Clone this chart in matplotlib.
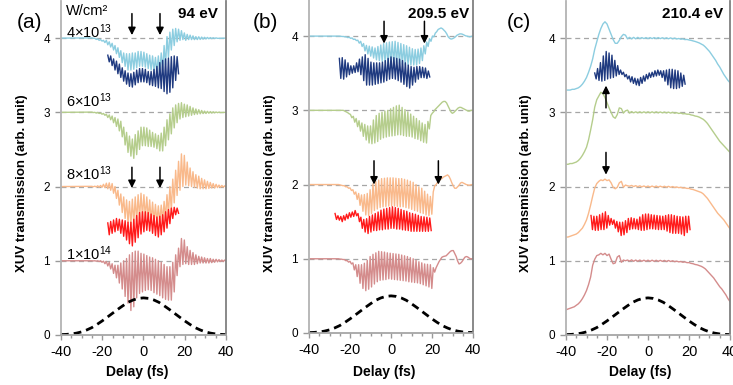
import numpy as np
import matplotlib
matplotlib.use("Agg")
import matplotlib.pyplot as plt

plt.rcParams['font.family'] = ['Liberation Sans', 'DejaVu Sans']
plt.rcParams['mathtext.fontset'] = 'custom'
plt.rcParams['mathtext.rm'] = 'Liberation Sans'
plt.rcParams['mathtext.default'] = 'regular'
plt.rcParams['axes.unicode_minus'] = False

STEP = 0.7  # fs between successive points of the fast (2w) oscillation

# colours of the intensity curves
C_BLUE, C_NAVY, C_GREEN = '#8ccde0', '#1f3a80', '#b5cd8c'
C_ORANGE, C_RED, C_PINK = '#f9b98b', '#ff1a1a', '#d48c8c'

# pump envelope (dashed), same in all panels
env_delay = np.arange(-40, 40.1, 2.5)
env_val = [0.005, 0.008, 0.014, 0.025, 0.042, 0.068, 0.10, 0.143, 0.19, 0.241, 0.293,
           0.345, 0.394, 0.44, 0.472, 0.493, 0.50, 0.493, 0.472, 0.44, 0.394, 0.345,
           0.293, 0.241, 0.19, 0.143, 0.10, 0.068, 0.042, 0.025, 0.014, 0.008, 0.005]

# ---------------- panel (a), 94 eV : peaks / troughs of the traces
a_blue_t0 = -25
a_blue_hi = [4.003, 3.998, 3.99, 3.98, 3.97, 3.97, 3.95, 3.93, 3.90, 3.87, 3.83, 3.80, 3.79, 3.79, 3.80,
             3.80, 3.82, 3.82, 3.81, 3.79, 3.77, 3.76, 3.74, 3.76, 3.80, 3.90, 4.02, 4.08, 4.12, 4.13,
             4.12, 4.10, 4.07, 4.05, 4.04, 4.03, 4.02, 4.018, 4.014, 4.011, 4.009, 4.007, 4.005, 4.003]
a_blue_lo = [3.997, 3.982, 3.97, 3.96, 3.94, 3.91, 3.88, 3.84, 3.79, 3.74, 3.67, 3.62, 3.57, 3.57, 3.58,
             3.60, 3.62, 3.62, 3.61, 3.59, 3.57, 3.56, 3.54, 3.54, 3.56, 3.64, 3.74, 3.84, 3.90, 3.95,
             3.97, 3.98, 3.97, 3.98, 3.98, 3.98, 3.98, 3.982, 3.986, 3.989, 3.991, 3.993, 3.995, 3.997]
a_navy_t0 = -17.3
a_navy_hi = [3.77, 3.76, 3.72, 3.69, 3.65, 3.60, 3.56, 3.53, 3.52, 3.54, 3.57, 3.59, 3.59, 3.58, 3.55,
             3.55, 3.58, 3.62, 3.67, 3.70, 3.72, 3.73, 3.75, 3.76, 3.75]
a_navy_lo = [3.68, 3.63, 3.57, 3.52, 3.47, 3.42, 3.38, 3.35, 3.34, 3.37, 3.40, 3.41, 3.41, 3.40, 3.37,
             3.36, 3.35, 3.33, 3.32, 3.28, 3.25, 3.27, 3.33, 3.43, 3.52]
a_green_t0 = -25
a_green_hi = [3.003, 3.0, 2.998, 2.99, 2.985, 2.975, 2.965, 2.95, 2.93, 2.91, 2.88, 2.80, 2.73, 2.68, 2.64,
              2.70, 2.75, 2.80, 2.80, 2.79, 2.76, 2.73, 2.71, 2.69, 2.72, 2.80, 2.90, 2.98, 3.06, 3.10,
              3.12, 3.13, 3.11, 3.10, 3.08, 3.06, 3.045, 3.035, 3.025, 3.017, 3.013, 3.01, 3.007, 3.005, 3.003]
a_green_lo = [2.997, 2.99, 2.985, 2.975, 2.96, 2.93, 2.90, 2.86, 2.81, 2.75, 2.67, 2.56, 2.46, 2.41, 2.38,
              2.43, 2.50, 2.55, 2.55, 2.54, 2.54, 2.53, 2.51, 2.48, 2.48, 2.55, 2.63, 2.71, 2.79, 2.86,
              2.91, 2.93, 2.94, 2.95, 2.96, 2.97, 2.975, 2.98, 2.983, 2.985, 2.988, 2.99, 2.993, 2.995, 2.997]
a_orange_t0 = -25
a_orange_hi = [2.003, 2.005, 2.01, 2.015, 2.03, 2.045, 2.05, 2.04, 2.00, 1.95, 1.90, 1.86, 1.82, 1.80, 1.83,
               1.86, 1.89, 1.91, 1.89, 1.86, 1.82, 1.79, 1.76, 1.74, 1.75, 1.80, 1.89, 2.00, 2.10, 2.22,
               2.34, 2.44, 2.42, 2.33, 2.25, 2.20, 2.16, 2.14, 2.11, 2.09, 2.07, 2.055, 2.04, 2.03, 2.02,
               2.015, 2.01]
a_orange_lo = [1.997, 1.995, 1.992, 1.99, 1.985, 1.97, 1.95, 1.91, 1.84, 1.75, 1.65, 1.57, 1.51, 1.48, 1.50,
               1.53, 1.57, 1.59, 1.58, 1.56, 1.53, 1.52, 1.52, 1.52, 1.54, 1.57, 1.62, 1.68, 1.78, 1.88,
               1.95, 2.00, 2.02, 2.01, 2.00, 1.99, 1.98, 1.97, 1.97, 1.97, 1.975, 1.98, 1.98, 1.985, 1.99,
               1.992, 1.995]
a_red_t0 = -17.3
a_red_hi = [1.51, 1.53, 1.55, 1.57, 1.56, 1.55, 1.54, 1.52, 1.52, 1.56, 1.61, 1.65, 1.66, 1.66, 1.65,
            1.63, 1.61, 1.59, 1.60, 1.62, 1.66, 1.69, 1.71, 1.72, 1.71]
a_red_lo = [1.35, 1.37, 1.39, 1.41, 1.37, 1.33, 1.28, 1.23, 1.20, 1.25, 1.31, 1.36, 1.39, 1.41, 1.40,
            1.37, 1.34, 1.32, 1.35, 1.39, 1.44, 1.50, 1.57, 1.62, 1.64]
a_pink_t0 = -25
a_pink_hi = [1.0, 1.0, 1.0, 1.0, 0.995, 0.99, 0.98, 0.96, 0.94, 0.94, 0.97, 1.00, 1.03, 1.08, 1.11,
             1.13, 1.13, 1.10, 1.09, 1.07, 1.05, 1.04, 1.02, 1.00, 0.98, 0.95, 0.92, 0.92, 0.98, 1.08,
             1.17, 1.30, 1.28, 1.19, 1.14, 1.11, 1.08, 1.06, 1.05, 1.04, 1.03, 1.03, 1.02, 1.02, 1.015,
             1.01, 1.01]
a_pink_lo = [0.998, 0.995, 0.99, 0.98, 0.96, 0.93, 0.89, 0.83, 0.77, 0.70, 0.62, 0.52, 0.43, 0.33, 0.38,
             0.50, 0.56, 0.58, 0.60, 0.61, 0.60, 0.57, 0.55, 0.53, 0.50, 0.48, 0.47, 0.47, 0.58, 0.80,
             0.92, 0.95, 0.96, 0.95, 0.95, 0.95, 0.96, 0.97, 0.97, 0.97, 0.97, 0.975, 0.98, 0.985, 0.99,
             0.99, 0.995]

# ---------------- panel (b), 209.5 eV
b_blue_t0 = -26
b_blue_hi = [4.0, 3.998, 3.995, 3.99, 3.985, 3.975, 3.96, 3.945, 3.93, 3.90, 3.875, 3.865, 3.855, 3.84, 3.86,
             3.88, 3.90, 3.91, 3.92, 3.925, 3.93, 3.915, 3.90, 3.885, 3.87, 3.85, 3.83, 3.82, 3.825, 3.84,
             3.87, 3.92, 3.965, 4.0, 4.04, 4.09, 4.11, 4.08, 4.03, 3.97, 3.965, 3.99, 4.02, 4.03, 4.015,
             4.0, 3.99, 4.0]
b_blue_lo = [4.0, 3.995, 3.99, 3.98, 3.97, 3.955, 3.94, 3.905, 3.86, 3.80, 3.76, 3.73, 3.705, 3.68, 3.67,
             3.66, 3.65, 3.64, 3.64, 3.64, 3.64, 3.63, 3.62, 3.61, 3.61, 3.61, 3.61, 3.61, 3.63, 3.67,
             3.76, 3.86, 3.93, 3.99, 4.06, 4.10, 4.10, 4.06, 3.99, 3.96, 3.975, 4.01, 4.03, 4.025, 4.005,
             3.995, 3.995, 4.0]
b_navy_t0 = -25.2
b_navy_hi = [3.70, 3.71, 3.68, 3.64, 3.60, 3.60, 3.64, 3.69, 3.72, 3.75, 3.70, 3.65, 3.64, 3.64, 3.64,
             3.65, 3.67, 3.70, 3.72, 3.71, 3.70, 3.69, 3.67, 3.64, 3.61, 3.59, 3.58, 3.59, 3.59, 3.58,
             3.57, 3.53]
b_navy_lo = [3.43, 3.42, 3.45, 3.48, 3.50, 3.51, 3.52, 3.48, 3.40, 3.34, 3.34, 3.34, 3.35, 3.36, 3.37,
             3.38, 3.40, 3.42, 3.43, 3.42, 3.40, 3.38, 3.35, 3.32, 3.30, 3.34, 3.38, 3.42, 3.44, 3.44,
             3.43, 3.45]
b_green_t0 = -24
b_green_hi = [3.0, 2.99, 2.97, 2.945, 2.92, 2.89, 2.86, 2.83, 2.81, 2.79, 2.79, 2.87, 2.93, 2.96, 2.975,
              2.99, 3.00, 3.02, 3.04, 3.06, 3.07, 3.04, 3.01, 2.98, 2.95, 2.92, 2.89, 2.86, 2.83, 2.81,
              2.85, 2.93, 2.98, 3.03, 3.07, 3.11, 3.12, 3.06, 2.98, 2.97, 3.01, 3.04, 3.03, 3.01, 2.99, 3.0]
b_green_lo = [3.0, 2.98, 2.955, 2.90, 2.84, 2.78, 2.72, 2.65, 2.60, 2.56, 2.55, 2.56, 2.58, 2.61, 2.63,
              2.64, 2.65, 2.655, 2.66, 2.67, 2.67, 2.66, 2.65, 2.65, 2.64, 2.62, 2.61, 2.59, 2.57, 2.56,
              2.75, 2.96, 3.01, 3.05, 3.09, 3.12, 3.10, 3.02, 2.96, 2.99, 3.03, 3.04, 3.02, 3.0, 2.99, 3.0]
b_orange_t0 = -27
b_orange_hi = [2.0, 2.0, 1.99, 1.985, 1.97, 1.955, 1.93, 1.90, 1.88, 1.86, 1.865, 1.88, 1.93, 2.01, 2.04,
               2.06, 2.08, 2.085, 2.09, 2.09, 2.09, 2.085, 2.08, 2.08, 2.07, 2.06, 2.045, 2.03, 2.00, 1.97,
               1.95, 1.91, 1.87, 1.84, 1.90, 2.00, 2.05, 2.08, 2.11, 2.13, 2.07, 1.98, 1.95, 1.99, 2.03,
               2.01, 1.995, 1.995]
b_orange_lo = [2.0, 1.995, 1.985, 1.97, 1.95, 1.92, 1.87, 1.80, 1.72, 1.64, 1.59, 1.58, 1.61, 1.65, 1.67,
               1.69, 1.70, 1.705, 1.71, 1.71, 1.71, 1.705, 1.70, 1.70, 1.69, 1.68, 1.665, 1.65, 1.64, 1.62,
               1.61, 1.59, 1.58, 1.60, 1.98, 2.03, 2.07, 2.10, 2.12, 2.11, 2.02, 1.95, 1.97, 2.02, 2.02,
               2.0, 1.99, 2.0]
b_red_t0 = -27.3
b_red_hi = [1.61, 1.58, 1.57, 1.58, 1.60, 1.62, 1.63, 1.65, 1.61, 1.56, 1.53, 1.54, 1.57, 1.59, 1.61,
            1.63, 1.655, 1.67, 1.68, 1.69, 1.70, 1.69, 1.68, 1.665, 1.65, 1.64, 1.62, 1.61, 1.60, 1.585,
            1.57, 1.565, 1.56, 1.55]
b_red_lo = [1.53, 1.52, 1.50, 1.52, 1.54, 1.56, 1.57, 1.58, 1.50, 1.41, 1.36, 1.34, 1.36, 1.38, 1.38,
            1.39, 1.39, 1.40, 1.40, 1.41, 1.41, 1.40, 1.40, 1.39, 1.385, 1.38, 1.37, 1.37, 1.37, 1.37,
            1.37, 1.37, 1.37, 1.38]
b_pink_t0 = -27
b_pink_hi = [1.0, 1.0, 0.995, 0.99, 0.975, 0.965, 0.945, 0.92, 0.92, 0.92, 0.94, 0.98, 1.03, 1.06, 1.08,
             1.10, 1.095, 1.09, 1.08, 1.075, 1.07, 1.065, 1.06, 1.05, 1.04, 1.03, 1.015, 1.00, 0.98, 0.96,
             0.945, 0.93, 0.925, 0.92, 0.88, 0.88, 0.96, 1.02, 1.035, 1.06, 1.10, 1.11, 1.03, 0.93, 0.96,
             1.02, 1.025, 1.0]
b_pink_lo = [1.0, 0.995, 0.99, 0.975, 0.955, 0.93, 0.85, 0.76, 0.67, 0.60, 0.57, 0.59, 0.62, 0.66, 0.69,
             0.71, 0.715, 0.72, 0.73, 0.725, 0.72, 0.715, 0.71, 0.705, 0.70, 0.69, 0.685, 0.68, 0.675, 0.665,
             0.65, 0.635, 0.62, 0.60, 0.82, 0.92, 0.99, 1.03, 1.04, 1.08, 1.11, 1.07, 0.97, 0.94, 0.99,
             1.03, 1.01, 1.0]

# ---------------- panel (c), 210.4 eV : smooth traces every 1 fs from -40 to 40
c_delay = np.arange(-40, 41)
c_blue = [3.30, 3.30, 3.30, 3.31, 3.31, 3.32, 3.33, 3.35, 3.38, 3.42,
          3.47, 3.54, 3.62, 3.72, 3.85, 3.95, 4.05, 4.13, 4.19, 4.22,
          4.19, 4.12, 4.05, 3.98, 3.93, 3.93, 3.97, 4.02, 4.05, 4.04,
          3.99, 4.01, 3.99, 4.01, 3.99, 4.01, 3.993, 4.007, 3.993, 4.007,
          3.993, 4.007, 3.993, 4.007, 3.993, 4.007, 3.993, 4.005, 3.992, 4.004,
          3.991, 4.003, 3.99, 4.0, 3.988, 3.995, 3.985, 3.99, 3.98, 3.982,
          3.975, 3.97, 3.962, 3.955, 3.945, 3.935, 3.92, 3.905, 3.88, 3.85,
          3.82, 3.78, 3.74, 3.70, 3.65, 3.61, 3.56, 3.51, 3.47, 3.43, 3.40]
c_green = [2.30, 2.30, 2.31, 2.31, 2.32, 2.33, 2.35, 2.38, 2.42, 2.47,
           2.53, 2.63, 2.76, 2.90, 3.07, 3.17, 3.22, 3.27, 3.25, 3.20,
           3.13, 3.06, 3.00, 2.94, 2.92, 2.97, 3.06, 3.05, 2.99, 3.02,
           3.03, 2.99, 3.01, 2.993, 3.007, 2.993, 3.007, 2.993, 3.007, 2.993,
           3.007, 2.993, 3.007, 2.993, 3.007, 2.993, 3.005, 2.993, 3.004, 2.992,
           3.003, 2.99, 3.0, 2.988, 2.995, 2.985, 2.99, 2.98, 2.982, 2.975,
           2.975, 2.965, 2.96, 2.95, 2.945, 2.935, 2.92, 2.905, 2.88, 2.85,
           2.81, 2.77, 2.73, 2.69, 2.65, 2.61, 2.58, 2.55, 2.52, 2.49, 2.46]
c_orange = [1.32, 1.32, 1.33, 1.34, 1.35, 1.36, 1.38, 1.41, 1.44, 1.49,
            1.55, 1.64, 1.75, 1.87, 1.98, 2.04, 2.07, 2.09, 2.08, 2.10,
            2.08, 2.09, 2.05, 1.99, 1.97, 1.99, 2.05, 2.07, 1.99, 2.02,
            2.01, 2.005, 2.015, 2.0, 2.012, 1.998, 2.01, 1.996, 2.008, 1.995,
            2.007, 1.993, 2.007, 1.993, 2.007, 1.993, 2.005, 1.993, 2.004, 1.992,
            2.003, 1.99, 2.0, 1.988, 1.995, 1.985, 1.99, 1.98, 1.982, 1.975,
            1.975, 1.965, 1.96, 1.95, 1.94, 1.93, 1.92, 1.90, 1.87, 1.84,
            1.80, 1.76, 1.72, 1.68, 1.64, 1.61, 1.58, 1.55, 1.51, 1.47, 1.43]
c_pink = [0.34, 0.35, 0.36, 0.37, 0.38, 0.40, 0.42, 0.45, 0.49, 0.54,
          0.60, 0.68, 0.78, 0.94, 1.02, 1.07, 1.08, 1.10, 1.08, 1.10,
          1.07, 1.09, 1.02, 0.96, 0.97, 1.05, 1.07, 0.98, 1.01, 1.0,
          1.01, 0.995, 1.012, 0.993, 1.01, 0.993, 1.01, 0.993, 1.008, 0.993,
          1.008, 0.992, 1.008, 0.992, 1.007, 0.992, 1.006, 0.992, 1.005, 0.99,
          1.004, 0.99, 1.0, 0.988, 0.995, 0.985, 0.99, 0.98, 0.985, 0.975,
          0.975, 0.965, 0.96, 0.95, 0.945, 0.935, 0.925, 0.91, 0.89, 0.86,
          0.83, 0.80, 0.77, 0.73, 0.69, 0.65, 0.62, 0.58, 0.54, 0.49, 0.45]
c_navy_t0 = -26
c_navy_hi = [3.53, 3.59, 3.67, 3.76, 3.82, 3.80, 3.77, 3.70, 3.63, 3.57, 3.54, 3.51, 3.49, 3.48, 3.46,
             3.45, 3.47, 3.49, 3.51, 3.53, 3.54, 3.56, 3.57, 3.56, 3.56, 3.57, 3.58, 3.58, 3.57, 3.56,
             3.53, 3.50]
c_navy_lo = [3.45, 3.43, 3.42, 3.43, 3.45, 3.46, 3.47, 3.49, 3.51, 3.51, 3.48, 3.45, 3.41, 3.39, 3.37,
             3.36, 3.39, 3.42, 3.45, 3.47, 3.48, 3.49, 3.50, 3.47, 3.42, 3.37, 3.33, 3.32, 3.32, 3.33,
             3.35, 3.38]
c_red_t0 = -27.8
c_red_hi = [1.61, 1.60, 1.60, 1.62, 1.64, 1.66, 1.61, 1.57, 1.55, 1.53, 1.52, 1.52, 1.54, 1.57, 1.58,
            1.57, 1.56, 1.59, 1.62, 1.63, 1.63, 1.62, 1.615, 1.61, 1.605, 1.60, 1.61, 1.62, 1.62, 1.61,
            1.60, 1.595, 1.59, 1.60, 1.60]
c_red_lo = [1.42, 1.41, 1.41, 1.42, 1.42, 1.44, 1.48, 1.49, 1.44, 1.39, 1.34, 1.35, 1.38, 1.42, 1.43,
            1.43, 1.42, 1.41, 1.41, 1.42, 1.43, 1.43, 1.425, 1.42, 1.42, 1.42, 1.40, 1.38, 1.37, 1.37,
            1.37, 1.36, 1.34, 1.38, 1.42]

intensity_labels = ['4×$10^{13}$', '6×$10^{13}$', '8×$10^{13}$', '1×$10^{14}$']
intensity_levels = [4.09, 3.16, 2.17, 1.09]


def zigzag(t0, hi, lo, base=None):
    """interleave peaks and troughs; optionally pad with the baseline to the axis ends"""
    vals = [v for pair in zip(hi, lo) for v in pair]
    t = t0 + STEP * np.arange(len(vals))
    if base is not None:
        if t[0] > -40:
            t, vals = np.r_[-40, t], [base] + vals
        if t[-1] < 40:
            t, vals = np.r_[t, 40], vals + [base]
    return t, np.array(vals)


def style_axes(ax):
    ax.set_xlim(-40, 40)
    ax.set_ylim(0, 4.5)
    ax.set_xticks([-40, -20, 0, 20, 40])
    ax.set_xticks(np.arange(-40, 41, 5), minor=True)
    ax.set_yticks([0, 1, 2, 3, 4])
    ax.tick_params(axis='x', which='major', direction='out', length=3.5, width=1,
                   color='#999999', labelsize=10.5, pad=4)
    ax.tick_params(axis='x', which='minor', direction='out', length=2.5, width=1, color='#999999')
    ax.tick_params(axis='y', direction='out', length=4, width=1, color='#999999',
                   labelsize=8.5, pad=4)
    ax.spines['top'].set_visible(False)
    ax.spines['left'].set_color('#b3b3b3')
    ax.spines['bottom'].set_color('#a6a6a6')
    ax.spines['right'].set_color('#808080')
    for s in ('left', 'bottom', 'right'):
        ax.spines[s].set_linewidth(1.3)
    for lev in [1, 2, 3, 4]:
        ax.axhline(lev, color='#a6a6a6', lw=0.9, ls=(0, (4, 3)), zorder=0)


def arrow(ax, x, tail, tip):
    ax.annotate('', xy=(x, tip), xytext=(x, tail),
                arrowprops=dict(arrowstyle='-|>', color='black', lw=1.1,
                                mutation_scale=11, shrinkA=0, shrinkB=0))


fig = plt.figure(figsize=(7.33, 3.85), dpi=100)
ax_a = fig.add_axes([0.0832, 0.1299, 0.2251, 0.8675])
ax_b = fig.add_axes([0.4216, 0.1351, 0.2237, 0.8675])
ax_c = fig.add_axes([0.7722, 0.1299, 0.2237, 0.8675])
lw = 1.0

# (a)
ax = ax_a
style_axes(ax)
ax.plot(*zigzag(a_blue_t0, a_blue_hi, a_blue_lo, 4.0), color=C_BLUE, lw=lw)
ax.plot(*zigzag(a_navy_t0, a_navy_hi, a_navy_lo), color=C_NAVY, lw=lw)
ax.plot(*zigzag(a_green_t0, a_green_hi, a_green_lo, 3.0), color=C_GREEN, lw=lw)
ax.plot(*zigzag(a_orange_t0, a_orange_hi, a_orange_lo, 2.0), color=C_ORANGE, lw=lw)
ax.plot(*zigzag(a_red_t0, a_red_hi, a_red_lo), color=C_RED, lw=lw)
ax.plot(*zigzag(a_pink_t0, a_pink_hi, a_pink_lo, 1.0), color=C_PINK, lw=lw)
ax.plot(env_delay, env_val, color='black', lw=2, ls=(0, (2.8, 1.8)))
for x in (-5.6, 8):
    arrow(ax, x, 4.33, 4.04)
    arrow(ax, x, 2.26, 1.98)
ax.text(-37.6, 4.36, 'W/cm²', fontsize=10.5, va='center')
for lab, lev in zip(intensity_labels, intensity_levels):
    ax.text(-37.6, lev, lab, fontsize=10.5, va='center')

# (b)
ax = ax_b
style_axes(ax)
ax.plot(*zigzag(b_blue_t0, b_blue_hi, b_blue_lo, 4.0), color=C_BLUE, lw=lw)
ax.plot(*zigzag(b_navy_t0, b_navy_hi, b_navy_lo), color=C_NAVY, lw=lw)
ax.plot(*zigzag(b_green_t0, b_green_hi, b_green_lo, 3.0), color=C_GREEN, lw=lw)
ax.plot(*zigzag(b_orange_t0, b_orange_hi, b_orange_lo, 2.0), color=C_ORANGE, lw=lw)
ax.plot(*zigzag(b_red_t0, b_red_hi, b_red_lo), color=C_RED, lw=lw)
ax.plot(*zigzag(b_pink_t0, b_pink_hi, b_pink_lo, 1.0), color=C_PINK, lw=lw)
ax.plot(env_delay, env_val, color='black', lw=2, ls=(0, (2.8, 1.8)))
arrow(ax, -3.4, 4.2, 3.9)
arrow(ax, 16.3, 4.2, 3.9)
arrow(ax, -8.3, 2.32, 2.0)
arrow(ax, 23.1, 2.32, 2.0)

# (c)
ax = ax_c
style_axes(ax)
ax.plot(c_delay, c_blue, color=C_BLUE, lw=lw)
ax.plot(*zigzag(c_navy_t0, c_navy_hi, c_navy_lo), color=C_NAVY, lw=lw)
ax.plot(c_delay, c_green, color=C_GREEN, lw=lw)
ax.plot(c_delay, c_orange, color=C_ORANGE, lw=lw)
ax.plot(*zigzag(c_red_t0, c_red_hi, c_red_lo), color=C_RED, lw=lw)
ax.plot(c_delay, c_pink, color=C_PINK, lw=lw)
ax.plot(env_delay, env_val, color='black', lw=2, ls=(0, (2.8, 1.8)))
arrow(ax, -20.5, 3.06, 3.36)
arrow(ax, -20.5, 2.46, 2.16)

# panel letters, photon energies and axis titles
W, H = 733, 385
for letter, lx, ex, energy, yl, xl in [('(a)', 29, 218, '94 eV', 22, 137),
                                       ('(b)', 265, 469, '209.5 eV', 270, 384),
                                       ('(c)', 519, 723, '210.4 eV', 526, 640)]:
    fig.text(lx / W, 1 - 23 / H, letter, fontsize=15, ha='center', va='center')
    fig.text(ex / W, 1 - 14 / H, energy, fontsize=11, fontweight='bold', ha='right', va='center')
    fig.text(yl / W, 1 - 183 / H, 'XUV transmission (arb. unit)', fontsize=9.5,
             fontweight='bold', rotation=90, ha='center', va='center')
    fig.text(xl / W, 1 - 372 / H, 'Delay (fs)', fontsize=10, fontweight='bold',
             ha='center', va='center')

fig.savefig('out.png', dpi=100)
